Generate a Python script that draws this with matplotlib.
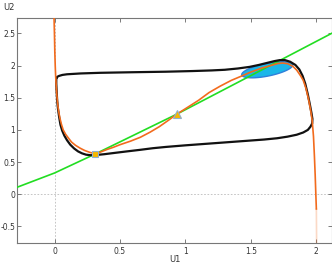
import numpy as np
import matplotlib
matplotlib.use("Agg")
import matplotlib.pyplot as plt

# nullcline (orange)
null_u1 = [-0.004, -0.001, 0.002, 0.005, 0.008, 0.012, 0.017, 0.023, 0.03, 0.04, 0.052, 0.066,
           0.085, 0.107, 0.13, 0.16, 0.196, 0.23, 0.27, 0.31, 0.35, 0.4, 0.45, 0.5, 0.58,
           0.655, 0.73, 0.8, 0.87, 0.934, 1.0, 1.1, 1.18, 1.265, 1.35, 1.42, 1.5, 1.58,
           1.65, 1.7, 1.74, 1.78, 1.82, 1.85, 1.88, 1.9, 1.92, 1.94, 1.955, 1.968, 1.978,
           1.985, 1.991, 1.996, 2.0]
null_u2 = [2.74, 2.5, 2.2, 2.0, 1.85, 1.7, 1.55, 1.42, 1.3, 1.19, 1.09, 1.0,
           0.93, 0.87, 0.81, 0.76, 0.715, 0.68, 0.65, 0.63, 0.655, 0.695, 0.73, 0.77, 0.825,
           0.885, 0.965, 1.05, 1.15, 1.245, 1.33, 1.46, 1.58, 1.68, 1.77, 1.83, 1.9, 1.96,
           2.0, 2.03, 2.04, 2.03, 1.99, 1.93, 1.84, 1.77, 1.65, 1.48, 1.32, 1.15, 0.9,
           0.6, 0.3, 0.0, -0.23]
# faint continuation of the nullcline below the axis
faint_u1 = [2.0, 2.002]
faint_u2 = [-0.23, -0.76]

# limit cycle (black)
cyc_u1 = [0.013, 0.02, 0.035, 0.06, 0.095, 0.2, 0.35, 0.6, 0.85, 1.05, 1.2, 1.3, 1.4, 1.49,
          1.56, 1.62, 1.68, 1.72, 1.76, 1.8, 1.84, 1.87, 1.895, 1.915, 1.935, 1.95, 1.962,
          1.97, 1.968, 1.955, 1.935, 1.9, 1.85, 1.78, 1.7, 1.6, 1.5, 1.4, 1.2, 1.0, 0.85,
          0.75, 0.654, 0.55, 0.45, 0.38, 0.32, 0.273, 0.24, 0.21, 0.18, 0.15, 0.12, 0.095,
          0.075, 0.058, 0.045, 0.035, 0.026, 0.02, 0.016, 0.013, 0.013]
cyc_u2 = [1.80, 1.825, 1.84, 1.855, 1.865, 1.878, 1.888, 1.897, 1.905, 1.915, 1.925, 1.935,
          1.955, 1.98, 2.01, 2.04, 2.07, 2.085, 2.085, 2.06, 2.01, 1.94, 1.84, 1.72, 1.55,
          1.4, 1.27, 1.17, 1.1, 1.05, 1.0, 0.96, 0.925, 0.895, 0.87, 0.85, 0.835, 0.82, 0.79,
          0.76, 0.735, 0.715, 0.69, 0.665, 0.64, 0.622, 0.61, 0.607, 0.615, 0.635, 0.665,
          0.71, 0.77, 0.84, 0.91, 0.99, 1.08, 1.2, 1.33, 1.45, 1.6, 1.72, 1.80]

# second nullcline (green)
line_u1 = [-0.29, 0.0, 0.31, 0.934, 1.5, 2.12]
line_u2 = [0.105, 0.33, 0.625, 1.245, 1.845, 2.505]

# fixed points
sq_u1, sq_u2 = [0.31], [0.625]
tri_u1, tri_u2 = [0.934], [1.245]

# ellipse: centre and half axes as vectors (data units)
ell_c = (1.625, 1.935)
ell_a = (0.195, 0.075)
ell_b = (0.0, 0.10)

fig = plt.figure(figsize=(3.32, 2.65), dpi=100)
ax = fig.add_axes([0.052, 0.084, 0.947, 0.848])

ax.axvline(0, color="#bbbbbb", lw=0.6, ls=(0, (2, 2)), zorder=0)
ax.axhline(0, color="#bbbbbb", lw=0.6, ls=(0, (2, 2)), zorder=0)

t = np.linspace(0, 2 * np.pi, 200)
ex = ell_c[0] + ell_a[0] * np.cos(t) + ell_b[0] * np.sin(t)
ey = ell_c[1] + ell_a[1] * np.cos(t) + ell_b[1] * np.sin(t)
ax.fill(ex, ey, facecolor="#1bb6e9", edgecolor="#2f80da", lw=1.0, zorder=2)

ax.plot(line_u1, line_u2, color="#22dd22", lw=1.2, zorder=3)
ax.plot(cyc_u1, cyc_u2, color="#111111", lw=1.6, zorder=4,
        solid_joinstyle="round", solid_capstyle="round")
ax.plot(null_u1, null_u2, color="#f26b1d", lw=1.2, zorder=5, solid_joinstyle="round")
ax.plot(faint_u1, faint_u2, color="#f26b1d", lw=1.2, alpha=0.25, zorder=5)

ax.plot(sq_u1, sq_u2, ls="none", marker="s", ms=5, mfc="#f5b800", mec="#8fb0d0", mew=0.8, zorder=6)
ax.plot(tri_u1, tri_u2, ls="none", marker="^", ms=6, mfc="#f5b800", mec="#8fb0d0", mew=0.8, zorder=6)

ax.set_xlim(-0.285, 2.117)
ax.set_ylim(-0.755, 2.74)
ax.set_xticks([0, 0.5, 1, 1.5, 2])
ax.set_xticklabels(["0", "0.5", "1", "1.5", "2"])
ax.set_yticks([-0.5, 0, 0.5, 1, 1.5, 2, 2.5])
ax.set_yticklabels(["-0.5", "0", "0.5", "1", "1.5", "2", "2.5"])
ax.tick_params(direction="in", length=3, width=0.6, color="#666666", labelsize=5.5,
               labelcolor="#333333", top=True, right=True)
ax.tick_params(axis="x", pad=3)
ax.tick_params(axis="y", pad=1.5)
for s in ax.spines.values():
    s.set_color("#777777")
    s.set_linewidth(0.8)

fig.text(0.5255, 0.004, "U1", fontsize=6, color="#333333", ha="center", va="bottom")
fig.text(0.01, 0.99, "U2", fontsize=6, color="#333333", ha="left", va="top")

fig.savefig("out.png", dpi=100)
